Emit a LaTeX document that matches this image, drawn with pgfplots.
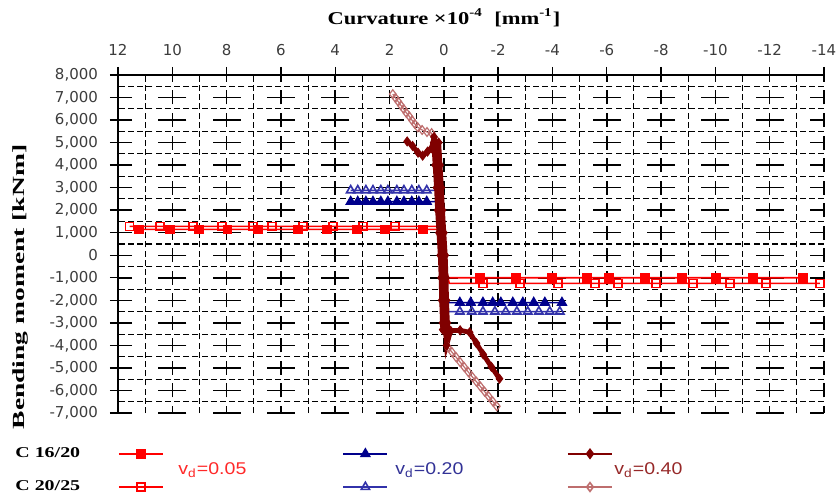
\documentclass[border=0pt]{standalone}
\usepackage{fontspec}
\setmainfont{Liberation Serif}
\newfontfamily\tickfont{DejaVu Sans}
\newfontfamily\legfont{Liberation Sans}
\usepackage{graphicx}
\usepackage{pgfplots}
\pgfplotsset{compat=1.18}

\definecolor{navyA}{RGB}{0,0,140}
\definecolor{navyB}{RGB}{50,50,170}
\definecolor{maroonA}{RGB}{128,0,0}
\definecolor{roseB}{RGB}{190,110,110}
\definecolor{ticktext}{RGB}{60,60,60}
\definecolor{vdred}{RGB}{255,40,40}
\definecolor{vdblue}{RGB}{50,50,150}
\definecolor{vdmaroon}{RGB}{150,40,40}

\begin{document}
\begin{tikzpicture}
\path[use as bounding box] (-59pt,-40pt) rectangle (361pt,206.5pt);
\begin{axis}[
  scale only axis, width=353pt, height=169pt,
  at={(0,0)}, anchor=south west,
  x dir=reverse,
  xmin=-14, xmax=12, ymin=-7000, ymax=8000,
  axis x line=top, axis y line=left,
  axis line style={-, black, line width=0.8pt},
  every outer x axis line/.append style={-},
  every outer y axis line/.append style={-},
  xtick={-14,-12,...,12},
  ytick={-7000,-6000,...,8000},
  minor x tick num=1, minor y tick num=1,
  tick align=outside,
  major tick length=4pt, minor tick length=0pt,
  tick style={black, line width=0.7pt},
  grid=both,
  major x grid style={black, line width=0.75pt, dash pattern=on 7pt off 4.27pt, dash phase=3.5pt},
  major y grid style={black, line width=0.75pt, dash pattern=on 14pt off 13.15pt, dash phase=7pt},
  minor grid style={black, line width=0.55pt, dash pattern=on 3pt off 1.6pt},
  /pgf/number format/assume math mode=true,
  /pgf/number format/1000 sep={,},
  ticklabel style={font=\tickfont\fontsize{7.5}{9}\selectfont, text=ticktext},
  xticklabel style={yshift=2pt},
  yticklabel style={xshift=-2.5pt},
  legend image code/.code={\draw[mark repeat=2,mark phase=2,#1] plot coordinates {(0pt,0pt) (11pt,0pt) (22pt,0pt)};},
  legend columns=3,
  legend style={draw=none, fill=none, inner sep=0pt, outer sep=0pt,
    at={(axis description cs:0,0)}, anchor=north west, yshift=-18pt,
    nodes={inner sep=0pt, text height=0pt, text depth=0pt},
    /tikz/every even column/.append style={column sep=88.5pt},
    /tikz/row sep=12pt},
]
% C 16/20, v_d = 0.05
\addplot[forget plot, red, line width=0.8pt, mark=square*, mark size=2pt,
  mark indices={1,2,3,4,5,6,7,8,9,10,13,14,15,16,17,18,19,20,21,22}] coordinates {
  (11.23,1150) (10.09,1150) (9.02,1150) (7.96,1150) (6.85,1150) (5.38,1150)
  (4.31,1150) (3.20,1150) (2.17,1150) (0.77,1150) (0.20,1150) (-0.15,-1000)
  (-1.33,-1000) (-2.65,-1000) (-3.98,-1000) (-5.27,-1000) (-6.08,-1000)
  (-7.40,-1000) (-8.77,-1000) (-10.02,-1000) (-11.38,-1000) (-13.22,-1000)};
% C 20/25, v_d = 0.05
\addplot[forget plot, red, line width=0.8pt, mark=square, mark size=2pt, mark options={fill=white},
  mark indices={1,2,3,4,5,6,7,8,9,10,13,14,15,16,17,18,19,20,21,22}] coordinates {
  (11.57,1280) (10.46,1280) (9.24,1280) (8.18,1280) (7.03,1280) (6.33,1280)
  (5.19,1280) (4.09,1280) (2.98,1280) (1.80,1280) (0.25,1280) (-0.20,-1250)
  (-1.44,-1250) (-2.80,-1250) (-4.20,-1250) (-5.56,-1250) (-6.41,-1250)
  (-7.81,-1250) (-9.17,-1250) (-10.53,-1250) (-11.86,-1250) (-13.85,-1250)};
% C 16/20, v_d = 0.20
\addplot[forget plot, navyA, line width=0.8pt, mark=triangle*, mark size=2.4pt,
  mark indices={1,2,3,4,5,6,7,8,9,10,11,14,15,16,17,18,19,20,21,22,23}] coordinates {
  (3.43,2380) (3.17,2380) (2.87,2380) (2.61,2380) (2.32,2380) (2.06,2380)
  (1.73,2380) (1.47,2380) (1.18,2380) (0.92,2380) (0.63,2380) (0.20,2380) (0.10,-2100)
  (-0.59,-2100) (-0.99,-2100) (-1.44,-2100) (-1.80,-2100) (-2.10,-2100)
  (-2.54,-2100) (-2.91,-2100) (-3.31,-2100) (-3.72,-2100) (-4.35,-2100)};
% C 20/25, v_d = 0.20
\addplot[forget plot, navyB, line width=0.8pt, mark=triangle, mark size=2.4pt, mark options={fill=white},
  mark indices={1,2,3,4,5,6,7,8,9,10,11,14,15,16,17,18,19,20,21,22,23}] coordinates {
  (3.43,2880) (3.17,2880) (2.87,2880) (2.61,2880) (2.32,2880) (2.06,2880)
  (1.73,2880) (1.47,2880) (1.18,2880) (0.92,2880) (0.63,2880) (0.25,2880) (0.05,-2500)
  (-0.59,-2500) (-1.03,-2500) (-1.44,-2500) (-1.88,-2500) (-2.28,-2500)
  (-2.69,-2500) (-3.09,-2500) (-3.50,-2500) (-3.90,-2500) (-4.27,-2500)};
% C 20/25, v_d = 0.40
\addplot[forget plot, roseB, line width=0.6pt, mark=diamond, mark size=2.2pt, mark options={fill=white}] coordinates {
  (1.88,7150) (1.78,6980) (1.68,6820) (1.58,6650) (1.48,6490) (1.38,6320)
  (1.27,6160) (1.17,5990) (1.07,5830) (0.96,5680) (0.80,5560) (0.62,5470) (0.45,5420)
  (-0.15,-4080) (-0.30,-4300) (-0.45,-4520) (-0.60,-4740) (-0.75,-4960) (-0.90,-5180)
  (-1.05,-5400) (-1.20,-5610) (-1.35,-5830) (-1.50,-6050) (-1.65,-6260) (-1.80,-6480) (-1.95,-6700)};
% C 16/20, v_d = 0.40: three load passes close to zero curvature
\addplot[forget plot, maroonA, line width=2.4pt, mark=diamond*, mark size=2.2pt, mark options={line width=0.5pt}] coordinates {
  (1.35,5050) (1.15,4850) (0.95,4550) (0.78,4420) (0.60,4600) (0.45,4750) (0.36,5250)
  (0.37,5000) (0.32,4000) (0.27,3000) (0.23,2000) (0.18,1000) (0.13,0)
  (0.10,-1000) (0.08,-2000) (0.05,-3000) (0.04,-3300)
  (-0.14,-3300) (-0.13,-3000) (-0.10,-2000) (-0.08,-1000) (-0.05,0)
  (0.00,1000) (0.05,2000) (0.09,3000) (0.14,4000) (0.19,5000)
  (0.28,5000) (0.23,4000) (0.18,3000) (0.14,2000) (0.09,1000) (0.04,0)
  (0.01,-1000) (-0.01,-2000) (-0.04,-3000) (-0.10,-4000)
  (-0.25,-3350) (-0.60,-3330) (-0.95,-3420)
  (-1.20,-3900) (-1.45,-4400) (-1.75,-4950) (-2.05,-5480)};

\addlegendimage{red, line width=0.8pt, mark=square*, mark size=2pt}
\addlegendentry{\mbox{}}
\addlegendimage{navyA, line width=0.8pt, mark=triangle*, mark size=2.4pt}
\addlegendentry{\mbox{}}
\addlegendimage{maroonA, line width=0.8pt, mark=diamond*, mark size=2.2pt}
\addlegendentry{\mbox{}}
\addlegendimage{red, line width=0.8pt, mark=square, mark size=2pt, mark options={fill=white}}
\addlegendentry{\mbox{}}
\addlegendimage{navyB, line width=0.8pt, mark=triangle, mark size=2.4pt, mark options={fill=white}}
\addlegendentry{\mbox{}}
\addlegendimage{roseB, line width=0.8pt, mark=diamond, mark size=2.2pt, mark options={fill=white}}
\addlegendentry{\mbox{}}
\end{axis}

% titles
\node at (163pt,197.5pt) {\scalebox{1.25}[1]{\fontsize{9}{11}\selectfont\bfseries Curvature \texttimes10\textsuperscript{-4}\ \ [mm\textsuperscript{-1}]}};
\node[rotate=90] at (-49pt,63pt) {\scalebox{1.62}[1]{\fontsize{8.5}{10}\selectfont\bfseries Bending moment [kNm]}};

% legend labels
\node[anchor=west, inner sep=0pt] at (-51.5pt,-20pt) {\scalebox{1.33}[1]{\fontsize{7.5}{9}\selectfont\bfseries C 16/20}};
\node[anchor=west, inner sep=0pt] at (-51.5pt,-36.5pt) {\scalebox{1.33}[1]{\fontsize{7.5}{9}\selectfont\bfseries C 20/25}};
\node[anchor=west, text=vdred, inner sep=0pt] at (30pt,-28.5pt) {\scalebox{1.15}[1]{\legfont\fontsize{8.5}{10}\selectfont v\textsubscript{d}=0.05}};
\node[anchor=west, text=vdblue, inner sep=0pt] at (138.5pt,-28.5pt) {\scalebox{1.15}[1]{\legfont\fontsize{8.5}{10}\selectfont v\textsubscript{d}=0.20}};
\node[anchor=west, text=vdmaroon, inner sep=0pt] at (248pt,-28.5pt) {\scalebox{1.15}[1]{\legfont\fontsize{8.5}{10}\selectfont v\textsubscript{d}=0.40}};
\end{tikzpicture}
\end{document}
